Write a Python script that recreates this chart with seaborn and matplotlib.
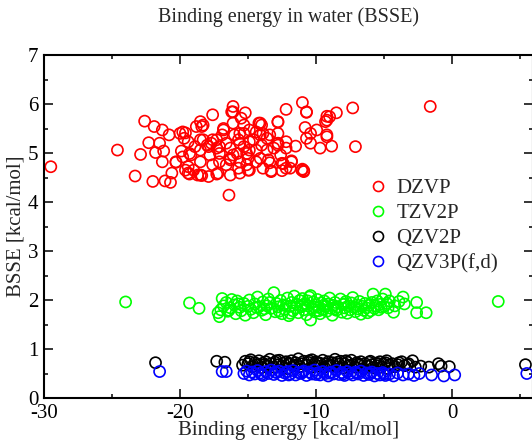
import matplotlib
matplotlib.use("Agg")
import matplotlib.pyplot as plt
import seaborn as sns
import pandas as pd
from matplotlib.lines import Line2D

# ---------------- data ----------------
series_names = ["DZVP", "TZV2P", "QZV2P", "QZV3P(f,d)"]
series_colors = ["#ff0000", "#00ff00", "#000000", "#0000ff"]

dzvp_x = [-29.5, -24.6, -22.9, -23.3, -22.6, -21.9, -22.3, -21.8, -22.0, -21.1, -20.7, -20.6, -21.3, -21.2,
          -20.3, -21.5, -21.3, -20.8, -20.0, -19.8, -19.7, -19.9, -19.4, -19.4, -19.6, -19.2, -19.0, -18.7,
          -18.4, -17.9, -17.3, -18.5, -18.4, -17.6, -18.3, -17.9, -17.7, -17.3, -17.1, -16.9, -16.8, -16.1,
          -16.1, -15.2, -15.5, -16.4, -16.3, -16.3, -15.7, -15.6, -15.0, -15.0, -15.8, -14.9, -14.6, -14.1,
          -14.4, -13.9, -13.6, -16.0, -15.3, -15.6, -12.8, -12.2, -11.0, -10.7, -10.8, -9.95, -9.3, -9.2,
          -10.7, -10.4, -9.7, -9.2, -11.5, -12.2, -12.2, -12.8, -13.1, -11.8, -12.5, -12.2, -11.0, -10.9,
          -13.3, -13.9, -13.5, -14.4, -14.9, -17.2, -18.5, -19.3, -17.6, -16.6, -15.6, -15.1, -16.1, -17.1,
          -17.8, -18.5, -19.3, -18.8, -18.3, -16.8, -15.6, -14.9, -14.1, -13.4, -18.5, -17.6, -16.6, -15.7,
          -14.9, -14.0, -13.6, -14.4, -19.4, -18.9, -18.0, -17.3, -16.3, -15.3, -16.3, -17.1, -18.5, -15.1,
          -14.1, -12.6, -12.8, -16.1, -15.3, -16.2, -14.2, -10.7, -12.8, -9.2, -9.0, -8.5, -7.3, -1.6,
          -7.1, -8.85, -9.2, -10.4, -12.8, -11.8, -12.4, -13.4, -13.3, -12.5, -11.9, -11.05, -10.9, -14.0,
          -19.8, -20.3, -19.6]
dzvp_y = [4.72, 5.06, 4.97, 4.53, 5.65, 5.54, 5.21, 5.01, 4.42, 4.43, 4.40, 4.59, 4.82, 5.04,
          4.82, 5.20, 5.47, 5.37, 5.40, 5.43, 5.30, 5.04, 4.72, 4.59, 5.41, 4.96, 4.65, 4.55,
          4.54, 4.52, 4.57, 5.64, 5.54, 5.78, 5.27, 5.13, 5.20, 5.27, 5.13, 5.37, 5.50, 5.95,
          5.84, 5.82, 5.71, 4.14, 4.89, 4.55, 4.69, 4.59, 4.65, 4.89, 4.99, 5.06, 5.27, 5.61,
          5.43, 5.40, 5.30, 5.37, 5.40, 5.20, 5.63, 5.89, 6.03, 5.83, 5.52, 5.47, 5.64, 5.75,
          5.30, 5.20, 5.10, 5.33, 5.14, 5.23, 5.10, 5.20, 5.10, 4.84, 4.79, 4.69, 4.67, 4.64,
          4.62, 4.69, 4.86, 4.82, 4.65, 4.59, 4.55, 4.57, 4.76, 4.76, 4.82, 4.99, 4.96, 4.99,
          4.96, 5.06, 4.99, 5.54, 5.57, 5.47, 5.40, 5.47, 5.37, 5.37, 5.27, 5.27, 5.20, 5.27,
          5.23, 5.16, 5.06, 5.06, 5.23, 5.13, 5.16, 5.10, 5.10, 5.13, 4.86, 4.82, 4.82, 4.76,
          4.89, 4.96, 5.40, 5.61, 5.57, 5.84, 5.61, 5.84, 5.64, 5.67, 5.74, 5.82, 5.92, 5.95,
          5.13, 5.14, 5.37, 5.40, 5.16, 4.82, 4.78, 4.80, 4.64, 4.64, 4.69, 4.65, 4.62, 5.57,
          4.92, 4.81, 4.65]

tzv2p_x = [-24.0, -19.3, -18.6, 3.4, -17.2, -17.1, -17.0, -16.9, -16.8, -16.6, -16.5, -16.3, -16.2, -16.0,
           -15.9, -15.8, -15.6, -15.5, -15.3, -15.2, -15.0, -14.9, -14.8, -14.6, -14.5, -14.3, -14.2, -14.0,
           -13.9, -13.7, -13.6, -13.5, -13.3, -13.1, -13.0, -12.9, -12.8, -12.6, -12.5, -12.4, -12.3, -12.1,
           -12.0, -11.9, -11.8, -11.7, -11.6, -11.5, -11.4, -11.3, -11.2, -11.1, -11.0, -10.9, -10.8, -10.7,
           -10.6, -10.5, -10.4, -10.4, -10.3, -10.2, -10.1, -10.0, -9.9, -9.8, -9.7, -9.6, -9.5, -9.4,
           -9.3, -9.2, -9.1, -9.0, -8.9, -8.8, -8.7, -8.6, -8.5, -8.4, -8.2, -8.1, -8.0, -7.9,
           -7.8, -7.7, -7.6, -7.5, -7.4, -7.3, -7.2, -7.1, -7.0, -6.9, -6.8, -6.7, -6.6, -6.5,
           -6.4, -6.3, -6.2, -6.1, -6.0, -5.9, -5.8, -5.7, -5.6, -5.5, -5.4, -5.3, -5.2, -5.1,
           -5.0, -4.9, -4.8, -4.7, -4.6, -4.3, -4.2, -3.9, -3.6, -3.5, -2.6, -2.6, -1.9,
           -13.8, -12.7, -11.9, -11.0, -10.6, -10.1, -9.8, -9.4, -8.6, -7.9, -15.7, -14.4, -13.4, -12.2,
           -16.4]
tzv2p_y = [1.96, 1.94, 1.83, 1.97, 1.74, 1.66, 1.80, 2.03, 1.88, 1.95, 1.77, 1.84, 2.01, 1.90,
           1.72, 1.98, 1.85, 1.78, 1.93, 1.69, 1.87, 2.00, 1.81, 1.74, 1.92, 2.06, 1.86, 1.79,
           1.96, 1.70, 1.88, 2.02, 1.83, 2.15, 1.76, 1.93, 1.86, 1.99, 1.72, 1.90, 1.81, 2.04,
           1.68, 1.87, 1.95, 1.78, 2.08, 1.84, 1.91, 1.74, 1.99, 1.86, 2.03, 1.80, 1.93, 1.70,
           1.88, 2.06, 1.59, 2.09, 1.83, 1.96, 1.76, 1.90, 2.01, 1.85, 1.72, 1.94, 1.81, 1.98,
           1.87, 1.77, 1.92, 2.04, 1.83, 1.69, 1.89, 1.95, 1.79, 1.86, 2.02, 1.75, 1.91, 1.84,
           1.97, 1.73, 1.88, 1.80, 1.94, 2.05, 1.85, 1.76, 1.90, 1.82, 1.97, 1.71, 1.87, 1.79,
           1.93, 1.84, 1.74, 1.89, 1.78, 1.95, 2.12, 1.83, 1.88, 1.98, 1.80, 1.91, 1.85, 2.02,
           1.87, 2.12, 1.93, 1.84, 1.98, 1.75, 1.88, 1.97, 2.06, 1.92, 1.95, 1.74, 1.74,
           1.82, 1.77, 1.73, 1.89, 1.98, 1.85, 1.78, 1.90, 1.82, 1.92, 1.92, 1.85, 1.95, 1.88,
           1.79]

qzv2p_x = [-21.8, -17.3, -16.7, 5.4, -15.4, -15.2, -15.0, -14.8, -14.7, -14.5, -14.3, -14.2, -14.0, -13.9,
           -13.7, -13.6, -13.4, -13.3, -13.1, -13.0, -12.8, -12.7, -12.5, -12.4, -12.2, -12.1, -11.9, -11.8,
           -11.6, -11.5, -11.3, -11.2, -11.0, -10.9, -10.7, -10.6, -10.4, -10.3, -10.1, -10.0, -9.8, -9.7,
           -9.5, -9.4, -9.2, -9.1, -8.9, -8.8, -8.6, -8.5, -8.3, -8.2, -8.0, -7.9, -7.7, -7.6,
           -7.4, -7.3, -7.1, -7.0, -6.8, -6.7, -6.5, -6.4, -6.2, -6.1, -5.9, -5.8, -5.6, -5.5,
           -5.3, -5.2, -5.0, -4.9, -4.7, -4.6, -4.4, -4.2, -4.0, -3.7, -3.5, -3.2, -2.9, -2.7,
           -2.3, -1.7, -1.0, -0.8, -0.2,
           -14.9, -13.8, -12.9, -12.0, -11.4, -10.5, -9.9, -9.0, -8.4, -7.8, -6.9, -6.0, -5.4, -4.8,
           -3.9, -3.3]
qzv2p_y = [0.72, 0.75, 0.73, 0.68, 0.67, 0.75, 0.70, 0.78, 0.64, 0.72, 0.68, 0.76, 0.62, 0.71,
           0.74, 0.66, 0.79, 0.70, 0.63, 0.73, 0.68, 0.77, 0.65, 0.71, 0.74, 0.60, 0.69, 0.76,
           0.66, 0.72, 0.80, 0.64, 0.70, 0.75, 0.67, 0.73, 0.62, 0.78, 0.69, 0.74, 0.65, 0.71,
           0.77, 0.63, 0.70, 0.74, 0.66, 0.72, 0.79, 0.64, 0.69, 0.75, 0.61, 0.70, 0.73, 0.66,
           0.77, 0.68, 0.63, 0.72, 0.67, 0.74, 0.60, 0.70, 0.65, 0.73, 0.68, 0.62, 0.71, 0.66,
           0.74, 0.63, 0.69, 0.72, 0.60, 0.67, 0.70, 0.64, 0.68, 0.74, 0.66, 0.70, 0.76, 0.63,
           0.65, 0.63, 0.70, 0.65, 0.64,
           0.74, 0.68, 0.76, 0.71, 0.68, 0.76, 0.72, 0.68, 0.73, 0.76, 0.70, 0.75, 0.70, 0.76,
           0.72, 0.68]

qzv3p_x = [-21.5, -16.9, -16.6, 5.5, -15.3, -15.1, -14.9, -14.7, -14.5, -14.3, -14.1, -13.9, -13.7, -13.5,
           -13.3, -13.1, -12.9, -12.7, -12.5, -12.3, -12.1, -11.9, -11.7, -11.5, -11.3, -11.1, -10.9, -10.7,
           -10.5, -10.3, -10.1, -9.9, -9.7, -9.5, -9.3, -9.1, -8.9, -8.7, -8.5, -8.3, -8.1, -7.9,
           -7.7, -7.5, -7.3, -7.1, -6.9, -6.7, -6.5, -6.3, -6.1, -5.9, -5.7, -5.5, -5.3, -5.1,
           -4.9, -4.6, -4.3, -4.0, -3.6, -3.2, -2.8, -2.4, -1.5, -0.6, 0.2,
           -14.0, -13.0, -12.0, -11.0, -10.0, -9.0, -8.0, -7.0, -6.0, -5.0]
qzv3p_y = [0.54, 0.54, 0.54, 0.50, 0.50, 0.55, 0.47, 0.53, 0.49, 0.56, 0.51, 0.46, 0.54, 0.50,
           0.57, 0.48, 0.52, 0.55, 0.46, 0.51, 0.54, 0.49, 0.56, 0.47, 0.52, 0.50, 0.55, 0.46,
           0.53, 0.49, 0.57, 0.51, 0.47, 0.54, 0.50, 0.45, 0.53, 0.49, 0.56, 0.48, 0.52, 0.46,
           0.54, 0.50, 0.47, 0.53, 0.49, 0.55, 0.46, 0.51, 0.48, 0.53, 0.45, 0.50, 0.47, 0.52,
           0.46, 0.49, 0.45, 0.51, 0.47, 0.49, 0.46, 0.50, 0.47, 0.45, 0.47,
           0.48, 0.53, 0.47, 0.53, 0.48, 0.51, 0.49, 0.51, 0.50, 0.49]

x_ticks = [-30, -20, -10, 0]
y_ticks = [0, 1, 2, 3, 4, 5, 6, 7]

# ---------------- build frame ----------------
frames = []
for name, xs, ys in zip(series_names,
                        [dzvp_x, tzv2p_x, qzv2p_x, qzv3p_x],
                        [dzvp_y, tzv2p_y, qzv2p_y, qzv3p_y]):
    frames.append(pd.DataFrame({"x": xs, "y": ys, "basis": name}))
df = pd.concat(frames, ignore_index=True)

# ---------------- plot ----------------
sns.set_style("ticks")
plt.rcParams["font.family"] = ["Liberation Serif", "DejaVu Serif"]
plt.rcParams["axes.unicode_minus"] = False

fig = plt.figure(figsize=(5.32, 4.41), dpi=100)
ax = fig.add_axes([44 / 532, 1 - 398 / 441, 489 / 532, 343 / 441])

sns.scatterplot(data=df, x="x", y="y", hue="basis", hue_order=series_names,
                palette=dict(zip(series_names, series_colors)),
                s=64, linewidth=1.2, legend=False, ax=ax)

# open circles: move fill colour to edge
for coll in ax.collections:
    fc = coll.get_facecolors()
    coll.set_edgecolors(fc)
    coll.set_facecolors("none")

handles = [Line2D([], [], linestyle="none", marker="o", markersize=7.2,
                  markerfacecolor="none", markeredgecolor=c, markeredgewidth=1.2)
           for c in series_colors]
ax.legend(handles, series_names, loc="upper left", bbox_to_anchor=(0.64, 0.665),
          frameon=False, fontsize=15, handletextpad=0.3, labelspacing=0.27,
          handlelength=1.2, borderaxespad=0)

ax.set_xlim(-30, -30 + 489 / 13.6)
ax.set_ylim(0, 7)
ax.set_xticks(x_ticks)
ax.set_yticks(y_ticks)
ax.set_xticks([-25, -15, -5, 5], minor=True)
ax.set_yticks([0.5, 1.5, 2.5, 3.5, 4.5, 5.5, 6.5], minor=True)
ax.tick_params(which="both", direction="in", top=True, right=True, width=1.1,
               labelsize=15, colors="black")
ax.tick_params(which="major", length=6.5, pad=4)
ax.tick_params(which="minor", length=3.2)
for sp in ax.spines.values():
    sp.set_linewidth(1.5)
    sp.set_color("black")

ax.set_xlabel("Binding energy [kcal/mol]", fontsize=15, labelpad=-1)
ax.set_ylabel("BSSE [kcal/mol]", fontsize=15, labelpad=2)
ax.set_title("Binding energy in water (BSSE)", fontsize=14.5, pad=24)

fig.savefig("out.png", dpi=100)
